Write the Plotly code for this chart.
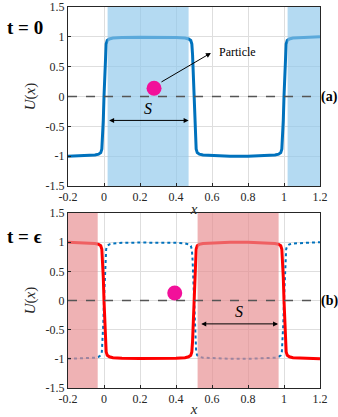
import plotly.graph_objects as go
from plotly.subplots import make_subplots

# profile at t = 0
x_u = [-0.2, -0.1, -0.05, -0.03, -0.018, -0.012, -0.008, -0.004,
       0.0, 0.004, 0.008, 0.012, 0.018, 0.03, 0.05, 0.1, 0.2,
       0.3, 0.4, 0.45, 0.47, 0.482, 0.488, 0.492, 0.496,
       0.5, 0.504, 0.508, 0.512, 0.518, 0.53, 0.55, 0.6,
       0.7, 0.8, 0.9, 0.95, 0.97, 0.982, 0.988, 0.992, 0.996,
       1.0, 1.004, 1.008, 1.012, 1.018, 1.03, 1.05, 1.1, 1.2]
u_t0 = [-1.0, -0.99, -0.98, -0.965, -0.94, -0.88, -0.7, -0.4,
        0.0, 0.4, 0.7, 0.88, 0.94, 0.965, 0.98, 0.99, 0.995,
        0.995, 0.99, 0.98, 0.965, 0.94, 0.88, 0.7, 0.4,
        0.0, -0.4, -0.7, -0.88, -0.94, -0.965, -0.98, -0.99,
        -1.0, -1.0, -0.99, -0.98, -0.965, -0.94, -0.88, -0.7, -0.4,
        0.0, 0.4, 0.7, 0.88, 0.94, 0.965, 0.98, 0.99, 1.0]
# profile at t = eps
u_eps = [1.0, 0.99, 0.98, 0.965, 0.94, 0.88, 0.7, 0.4,
         0.0, -0.4, -0.7, -0.88, -0.94, -0.965, -0.98, -0.99, -0.995,
         -0.995, -0.99, -0.98, -0.965, -0.94, -0.88, -0.7, -0.4,
         0.0, 0.4, 0.7, 0.88, 0.94, 0.965, 0.98, 0.99,
         1.0, 1.0, 0.99, 0.98, 0.965, 0.94, 0.88, 0.7, 0.4,
         0.0, -0.4, -0.7, -0.88, -0.94, -0.965, -0.98, -0.99, -1.0]

# shaded regions [start, end]
shade_t0 = [[0.02, 0.47], [1.02, 1.2]]
shade_eps = [[-0.2, -0.035], [0.52, 0.97]]

# particle positions (x, y)
particle_t0 = (0.278, 0.14)
particle_eps = (0.393, 0.13)

# S arrows (x start, x end, y)
s_t0 = (0.02, 0.47, -0.4)
s_eps = (0.532, 0.967, -0.4)

xtick_vals = [-0.2, 0, 0.2, 0.4, 0.6, 0.8, 1, 1.2]
xtick_text = ['-0.2', '0', '0.2', '0.4', '0.6', '0.8', '1', '1.2']
ytick_vals = [-1.5, -1, -0.5, 0, 0.5, 1, 1.5]
ytick_text = ['-1.5', '-1', '-0.5', '0', '0.5', '1', '1.5']

SERIF = 'Times New Roman'
BLUE = '#0072BD'
RED = '#FF0000'
MAGENTA = '#F2109A'


def rect_trace(regions, fillcolor):
    xs, ys = [], []
    for a, b in regions:
        xs += [a, b, b, a, a, None]
        ys += [-1.5, -1.5, 1.5, 1.5, -1.5, None]
    return go.Scatter(x=xs, y=ys, fill='toself', fillcolor=fillcolor,
                      line=dict(width=0), mode='lines', hoverinfo='skip',
                      showlegend=False)


fig = make_subplots(rows=2, cols=1, vertical_spacing=0.07)

# top panel
fig.add_trace(go.Scatter(x=x_u, y=u_t0, mode='lines',
                         line=dict(color=BLUE, width=3)), row=1, col=1)
fig.add_trace(rect_trace(shade_t0, 'rgba(140,198,235,0.65)'), row=1, col=1)
fig.add_trace(go.Scatter(x=[particle_t0[0]], y=[particle_t0[1]], mode='markers',
                         marker=dict(color=MAGENTA, size=15)), row=1, col=1)

# bottom panel
fig.add_trace(go.Scatter(x=x_u, y=u_t0, mode='lines',
                         line=dict(color=BLUE, width=2, dash='dot')), row=2, col=1)
fig.add_trace(go.Scatter(x=x_u, y=u_eps, mode='lines',
                         line=dict(color=RED, width=3)), row=2, col=1)
fig.add_trace(rect_trace(shade_eps, 'rgba(231,141,145,0.68)'), row=2, col=1)
fig.add_trace(go.Scatter(x=[particle_eps[0]], y=[particle_eps[1]], mode='markers',
                         marker=dict(color=MAGENTA, size=15)), row=2, col=1)

axis_font = dict(family=SERIF, size=12, color='#262626')
title_font = dict(family=SERIF, size=15, color='#262626')
for r in (1, 2):
    fig.update_xaxes(range=[-0.2, 1.2], tickvals=xtick_vals, ticktext=xtick_text,
                     showgrid=True, gridcolor='#DEDEDE', zeroline=False,
                     showline=True, linecolor='#262626', mirror=True,
                     ticks='inside', ticklen=3, tickcolor='#262626',
                     tickfont=axis_font, automargin=False,
                     title=dict(text='<i>x</i>', font=title_font, standoff=0),
                     row=r, col=1)
    fig.update_yaxes(range=[-1.5, 1.5], tickvals=ytick_vals, ticktext=ytick_text,
                     showgrid=True, gridcolor='#DEDEDE', zeroline=False,
                     showline=True, linecolor='#262626', mirror=True,
                     ticks='inside', ticklen=3, tickcolor='#262626',
                     tickfont=axis_font, automargin=False,
                     title=dict(text='<i>U</i>(<i>x</i>)', font=title_font, standoff=6),
                     row=r, col=1)

# dashed zero lines
for yref, xref in (('y', 'x'), ('y2', 'x2')):
    fig.add_shape(type='line', xref=xref + ' domain', yref=yref, x0=0, x1=1, y0=0, y1=0,
                  line=dict(color='#555555', width=1.5, dash='dash'))

# S double arrows
for (xa, xb, ys), xr, yr in ((s_t0, 'x', 'y'), (s_eps, 'x2', 'y2')):
    fig.add_annotation(x=xb, y=ys, ax=xa, ay=ys, xref=xr, yref=yr, axref=xr, ayref=yr,
                       showarrow=True, arrowhead=2, arrowside='end+start', arrowsize=1,
                       arrowwidth=1, arrowcolor='black', text='')
    fig.add_annotation(x=(xa + xb) / 2, y=ys, xref=xr, yref=yr, text='<i>S</i>',
                       showarrow=False, yshift=12,
                       font=dict(family=SERIF, size=16, color='black'))

# particle label
fig.add_annotation(x=0.594, y=0.73, ax=0.311, ay=0.23, xref='x', yref='y',
                   axref='x', ayref='y', showarrow=True, arrowhead=2, arrowsize=1,
                   arrowwidth=1, arrowcolor='black', text='')
fig.add_annotation(x=0.625, y=0.75, xref='x', yref='y', text='Particle',
                   showarrow=False, xanchor='left',
                   font=dict(family=SERIF, size=12, color='black'))

# panel labels
for lab, yr in (('<b>(a)</b>', 'y'), ('<b>(b)</b>', 'y2')):
    fig.add_annotation(x=1.0, y=0, xref='x domain', yref=yr, text=lab, showarrow=False,
                       xanchor='left', xshift=-1,
                       font=dict(family=SERIF, size=14, color='black'))

fig.update_layout(
    width=338, height=417,
    margin=dict(l=68, r=18, t=7, b=29, autoexpand=False),
    plot_bgcolor='white', paper_bgcolor='white',
    font=dict(family=SERIF),
    showlegend=False,
)
fig.update_yaxes(domain=[0.530, 1.0], row=1, col=1)
fig.update_yaxes(domain=[0.0, 0.459], row=2, col=1)

# time labels placed in pixel space relative to the figure
pw, ph = 338 - 68 - 18, 417 - 7 - 29
for txt, px, py in (('<b>t = 0</b>', 25, 27), ('<b>t = \u03f5</b>', 24, 236)):
    fig.add_annotation(x=(px - 68) / pw, y=1 - (py - 7) / ph, xref='paper', yref='paper',
                       xanchor='center', yanchor='middle',
                       text=txt, showarrow=False,
                       font=dict(family=SERIF, size=19, color='black'))

fig.write_html("out.html", config={'displayModeBar': False},
               post_script="document.body.style.margin='0';")
